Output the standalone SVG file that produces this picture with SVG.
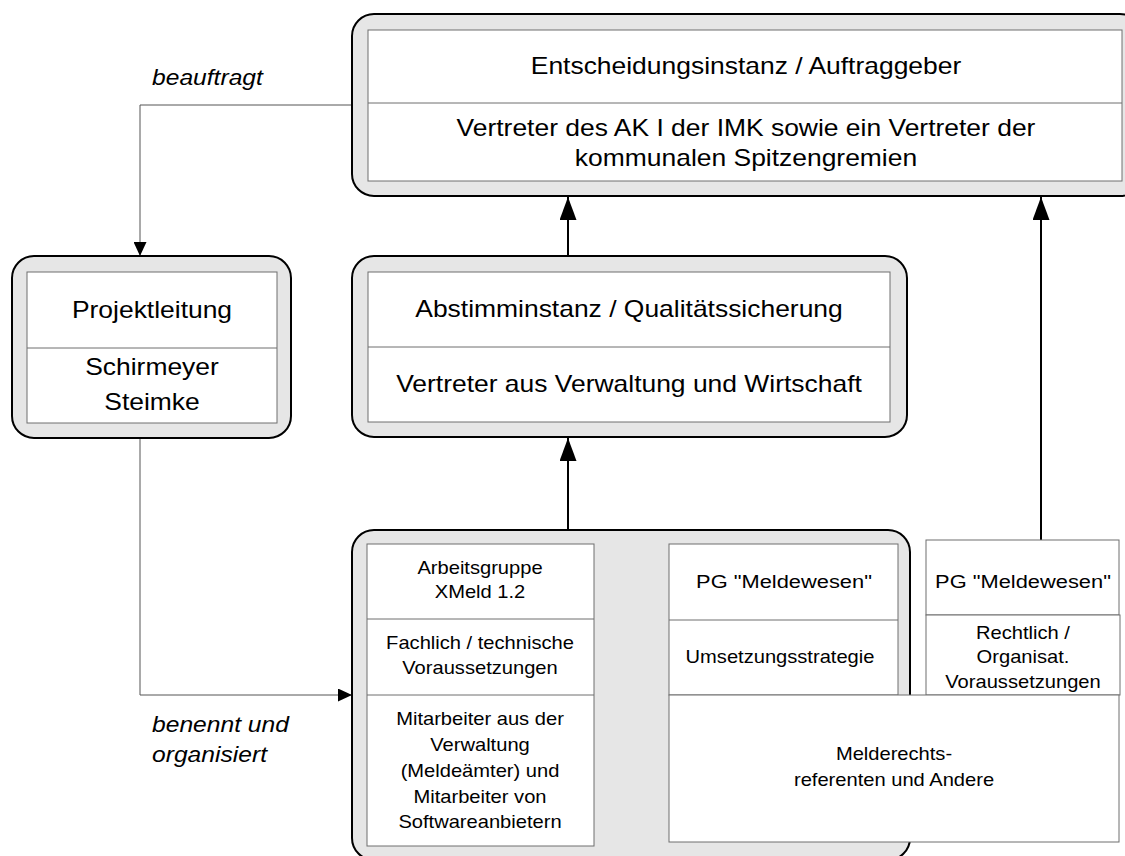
<svg xmlns="http://www.w3.org/2000/svg" width="1125" height="856" viewBox="0 0 1125 856">
<style>
.outer{fill:#e6e6e6;stroke:#000;stroke-width:2}
.inner{fill:#fff;stroke:#6e6e6e;stroke-width:1}
.div{stroke:#6e6e6e;stroke-width:1}
.t{font-family:"Liberation Sans",Arial,sans-serif;fill:#000;text-anchor:middle}
.big{font-size:23px}
.sm{font-size:17.5px}
.md{font-size:19px}
.lbl{font-family:"Liberation Sans",Arial,sans-serif;font-style:italic;font-size:22px;fill:#000}
.thin{fill:none;stroke:#555;stroke-width:1}
.thick{fill:none;stroke:#000;stroke-width:2}
</style>
<defs>
<marker id="ab" viewBox="0 0 23 17" refX="23" refY="8.5" markerWidth="23" markerHeight="17" markerUnits="userSpaceOnUse" orient="auto"><path d="M0,0 L23,8.5 L0,17 z" fill="#000"/></marker>
<marker id="as" viewBox="0 0 14 13" refX="14" refY="6.5" markerWidth="14" markerHeight="13" markerUnits="userSpaceOnUse" orient="auto"><path d="M0,0 L14,6.5 L0,13 z" fill="#000"/></marker>
</defs>

<g id="connectors">
<path class="thin" d="M352,105 H140 V256" marker-end="url(#as)"/>
<path class="thin" d="M140,438 V695 H352" marker-end="url(#as)"/>
<path class="thick" d="M568,256 V197" marker-end="url(#ab)"/>
<path class="thick" d="M568,530 V438" marker-end="url(#ab)"/>
<path class="thick" d="M1041,540 V197" marker-end="url(#ab)"/>
</g>

<g id="entscheidungsinstanz">
<rect class="outer" x="352" y="14" width="790" height="182" rx="22"/>
<rect class="inner" x="368" y="30" width="754" height="151"/>
<line class="div" x1="368" y1="103" x2="1122" y2="103"/>
<text class="t big" transform="matrix(1.15 0 0 1 746 0)"><tspan x="0" y="74">Entscheidungsinstanz / Auftraggeber</tspan></text>
<text class="t big" transform="matrix(1.15 0 0 1 746 0)"><tspan x="0" y="136">Vertreter des AK I der IMK sowie ein Vertreter der</tspan><tspan x="0" y="166">kommunalen Spitzengremien</tspan></text>
</g>

<g id="projektleitung">
<rect class="outer" x="12" y="256" width="279" height="182" rx="22"/>
<rect class="inner" x="27" y="272" width="250" height="151"/>
<line class="div" x1="27" y1="348" x2="277" y2="348"/>
<text class="t big" transform="matrix(1.15 0 0 1 152 0)"><tspan x="0" y="318">Projektleitung</tspan></text>
<text class="t big" transform="matrix(1.15 0 0 1 152 0)"><tspan x="0" y="375">Schirmeyer</tspan><tspan x="0" y="410">Steimke</tspan></text>
</g>

<g id="abstimminstanz">
<rect class="outer" x="352" y="256" width="555" height="181" rx="22"/>
<rect class="inner" x="368" y="272" width="522" height="150"/>
<line class="div" x1="368" y1="347" x2="890" y2="347"/>
<text class="t big" transform="matrix(1.15 0 0 1 629 0)"><tspan x="0" y="317">Abstimminstanz / Qualitätssicherung</tspan></text>
<text class="t big" transform="matrix(1.15 0 0 1 629 0)"><tspan x="0" y="392">Vertreter aus Verwaltung und Wirtschaft</tspan></text>
</g>

<g id="arbeitsgruppe">
<rect class="outer" x="352" y="530" width="558" height="330" rx="22"/>
<rect class="inner" x="367" y="544" width="227" height="302"/>
<line class="div" x1="367" y1="619" x2="594" y2="619"/>
<line class="div" x1="367" y1="695" x2="594" y2="695"/>
<text class="t sm" transform="matrix(1.15 0 0 1 480 0)"><tspan x="0" y="574">Arbeitsgruppe</tspan><tspan x="0" y="598">XMeld 1.2</tspan></text>
<text class="t sm" transform="matrix(1.15 0 0 1 480 0)"><tspan x="0" y="649">Fachlich / technische</tspan><tspan x="0" y="674">Voraussetzungen</tspan></text>
<text class="t sm" transform="matrix(1.15 0 0 1 480 0)"><tspan x="0" y="725">Mitarbeiter aus der</tspan><tspan x="0" y="751">Verwaltung</tspan><tspan x="0" y="777">(Meldeämter) und</tspan><tspan x="0" y="803">Mitarbeiter von</tspan><tspan x="0" y="828">Softwareanbietern</tspan></text>
</g>

<g id="pg-umsetzung">
<rect class="inner" x="669" y="544" width="229" height="151"/>
<line class="div" x1="669" y1="620" x2="898" y2="620"/>
<text class="t md" transform="matrix(1.15 0 0 1 784 0)"><tspan x="0" y="588">PG "Meldewesen"</tspan></text>
<text class="t sm" transform="matrix(1.15 0 0 1 780 0)"><tspan x="0" y="663">Umsetzungsstrategie</tspan></text>
</g>

<g id="pg-rechtlich">
<rect class="inner" x="926" y="540" width="193" height="75"/>
<rect class="inner" x="926" y="615" width="194" height="80"/>
<text class="t md" transform="matrix(1.15 0 0 1 1023 0)"><tspan x="0" y="588">PG "Meldewesen"</tspan></text>
<text class="t sm" transform="matrix(1.15 0 0 1 1023 0)"><tspan x="0" y="639">Rechtlich /</tspan><tspan x="0" y="663">Organisat.</tspan><tspan x="0" y="688">Voraussetzungen</tspan></text>
</g>

<g id="melderechtsreferenten">
<rect class="inner" x="669" y="695" width="450" height="147"/>
<text class="t sm" transform="matrix(1.15 0 0 1 894 0)"><tspan x="0" y="760">Melderechts-</tspan><tspan x="0" y="786">referenten und Andere</tspan></text>
</g>

<g id="labels">
<text class="lbl" transform="matrix(1.12 0 0 1 152 85)">beauftragt</text>
<text class="lbl" transform="matrix(1.12 0 0 1 152 0)"><tspan x="0" y="732">benennt und</tspan><tspan x="0" y="762">organisiert</tspan></text>
</g>
</svg>
